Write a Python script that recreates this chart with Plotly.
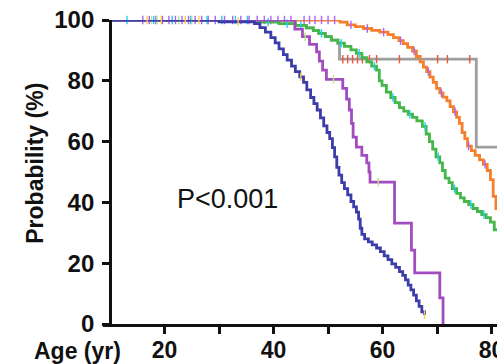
import numpy as np
import plotly.graph_objects as go

# Kaplan-Meier step points: age (yr) at which each drop occurs and survival (%) after it
orange_age = [10, 52.2, 53.5, 55.0, 56.5, 58.0, 59.5, 61.0, 62.0, 63.0, 63.8, 64.6, 65.5, 66.2,
              66.9, 67.5, 68.1, 68.7, 69.3, 69.9, 70.5, 71.1, 71.8, 72.4, 73.0, 73.6, 74.1,
              74.6, 75.1, 75.6, 76.3, 77.0, 77.8, 78.5, 79.2, 79.8, 80.3, 80.8, 81.4]
orange_surv = [100, 99.3, 98.4, 97.8, 97.2, 96.6, 96.0, 95.2, 94.2, 93.2, 92.2, 91.0, 89.8, 88.0,
               86.2, 84.5, 83.0, 81.2, 79.5, 77.5, 76.0, 74.6, 73.4, 71.5, 69.8, 68.0, 66.0,
               63.0, 61.0, 58.5, 57.0, 55.5, 54.0, 52.5, 50.5, 47.5, 42.0, 38.0, 35.0]

green_age = [10, 37, 41, 44, 46, 47.3, 48.3, 49.5, 50.6, 51.8, 53.0, 54.2, 55.2, 56.2, 57.1,
             58.0, 58.9, 59.4, 59.9, 60.7, 61.5, 62.3, 63.1, 63.9, 64.7, 65.5, 66.3, 67.3,
             68.0, 68.6, 69.2, 69.8, 70.5, 71.0, 71.5, 72.2, 72.8, 73.6, 74.3, 75.0, 75.8,
             76.6, 77.4, 78.2, 79.0, 79.8, 80.5, 81.5]
green_surv = [100, 99.3, 98.8, 98.2, 97.4, 96.5, 95.6, 94.5, 93.4, 92.4, 91.3, 90.2, 89.0, 87.6,
              86.2, 84.8, 83.5, 80.0, 78.5, 76.3, 74.5, 72.8, 71.2, 70.0, 69.0, 68.0, 66.8,
              65.0, 62.5, 60.0, 57.5, 55.0, 53.0, 50.5, 48.0, 46.5, 44.5, 43.0, 41.5, 40.3,
              39.3, 38.0, 37.0, 36.0, 35.0, 33.5, 31.0, 29.5]

gray_age = [10, 44, 46, 47.3, 48.3, 49.5, 50.6, 51.8, 52.1, 77.2, 81.5]
gray_surv = [100, 98.2, 97.4, 96.5, 95.6, 94.5, 93.4, 92.4, 87.1, 58.2, 58.2]

purple_age = [10, 43.9, 45.3, 46.6, 47.9, 48.4, 49.0, 49.7, 52.7, 53.4, 53.9, 54.3, 54.6, 55.2,
              56.2, 57.1, 57.5, 57.7, 62.2, 65.3, 65.9, 70.5, 71.1]
purple_surv = [100, 97.0, 94.5, 92.0, 89.5, 86.5, 83.5, 80.5, 77.5, 74.0, 70.4, 66.0, 61.5, 58.2,
               55.5, 53.0, 50.0, 46.7, 33.2, 24.3, 16.8, 8.6, 0]

blue_age = [10, 30, 36.5, 37.5, 38.5, 39.5, 40.3, 41.0, 41.8, 42.5, 43.3, 44.0, 44.8, 45.5,
            46.1, 46.8, 47.4, 48.0, 48.6, 49.2, 49.8, 50.3, 50.8, 51.2, 51.6, 52.0, 52.5,
            53.0, 53.6, 54.2, 54.7, 55.2, 55.6, 55.9, 56.2, 56.7, 57.4, 58.1, 58.9, 59.6,
            60.3, 61.0, 61.7, 62.4, 63.1, 63.7, 64.2, 64.7, 65.2, 65.7, 66.2, 66.7, 67.2, 67.7]
blue_surv = [100, 99.4, 98.8, 97.5, 96.0, 94.2, 92.5, 90.5, 88.6, 86.8, 84.8, 83.0, 81.3, 79.5,
             77.0, 74.5, 72.5, 70.4, 67.8, 65.2, 63.0, 61.0, 58.0, 55.0, 51.5, 49.0, 46.5,
             44.5, 42.5, 40.3, 38.5, 36.8, 34.5, 31.5, 29.5, 28.0, 27.0, 26.0, 25.0, 23.8,
             22.4, 21.2, 19.8, 18.6, 17.2, 16.0, 14.5, 12.8, 11.2, 9.5, 7.6, 5.8, 4.0, 3.0]

# Censored observations (age, yr)
orange_cens = [16, 17.2, 18.4, 19.6, 20.8, 22, 23.2, 24.4, 25.6, 26.8, 28, 29.3, 31, 32.5, 34,
               35.5, 37, 38.3, 39.5, 40.8, 42, 43.2, 45.6, 46.6, 47.6, 48.8, 50, 51.2, 54.2,
               57.2, 60.2, 63.3, 65.8, 68.4, 70.8, 73.3, 75.8, 78.8]
green_cens = [13.1, 18, 21.4, 24.8, 27.8, 30.5, 33, 35.2, 39, 42.5, 45, 48.8, 52.4, 55.7, 58.5,
              61.9, 65, 67.8, 70.2, 73.2, 76.2, 78.6]
gray_cens = [52.7, 53.6, 54.5, 55.4, 56.3, 57.6, 58.9, 63.1, 70.1, 71.9, 76.0]
purple_cens = [17.6, 18.6, 22.6, 25, 45.8, 51, 59.2]
blue_cens = [16.8, 19.4, 23.8, 26.3, 33.5, 45, 67.7]

x_ticks = [20, 30, 40, 50, 60, 70, 80]
x_tick_text = ["20", "", "40", "", "60", "", "80"]
y_ticks = [0, 20, 40, 60, 80, 100]

groups = [
    ("gray", gray_age, gray_surv, gray_cens, "#9E9E9E"),
    ("orange", orange_age, orange_surv, orange_cens, "#F47F2C"),
    ("green", green_age, green_surv, green_cens, "#45B649"),
    ("purple", purple_age, purple_surv, purple_cens, "#A24DBF"),
    ("blue", blue_age, blue_surv, blue_cens, "#3B3EAA"),
]

FONT = "Liberation Sans, Arial, sans-serif"

fig = go.Figure()
for name, ages, surv, cens, color in groups:
    fig.add_trace(go.Scatter(
        x=ages, y=surv, mode="lines", line=dict(color=color, width=2.8, shape="hv"),
        name=name, cliponaxis=False, showlegend=False, hoverinfo="skip"))
    a = np.asarray(ages)
    s = np.asarray(surv)
    idx = np.searchsorted(a, np.asarray(cens), side="right") - 1
    fig.add_trace(go.Scatter(
        x=cens, y=s[idx], mode="markers",
        marker=dict(symbol="line-ns-open", size=6, line=dict(color=color, width=1.4)),
        cliponaxis=False, showlegend=False, hoverinfo="skip"))

fig.add_annotation(x=0.317, y=0.41, xref="paper", yref="paper", text="P<0.001",
                   xanchor="center", yanchor="middle", showarrow=False,
                   font=dict(family=FONT, size=27, color="#111"))
fig.add_annotation(x=-0.173, y=0.53, xref="paper", yref="paper", text="Probability (%)",
                   xanchor="center", yanchor="middle", textangle=-90, showarrow=False,
                   font=dict(family=FONT, size=23, color="#111", weight="bold"))
fig.add_annotation(x=0.05, y=-0.088, xref="paper", yref="paper", text="Age (yr)",
                   xanchor="right", yanchor="middle", showarrow=False,
                   font=dict(family=FONT, size=23, color="#111", weight="bold"))

fig.update_layout(
    width=497, height=364,
    margin=dict(l=103, r=0, t=20, b=40, autoexpand=False),
    plot_bgcolor="white", paper_bgcolor="white",
    xaxis=dict(range=[8.7, 81], tickvals=x_ticks, ticktext=x_tick_text,
               ticklabeloverflow="allow", automargin=False, ticklabelstandoff=-4,
               showgrid=False, zeroline=False, showline=True, linecolor="#111", linewidth=3,
               ticks="outside", ticklen=7, tickwidth=2.5, tickcolor="#111",
               tickfont=dict(family=FONT, size=23, color="#111", weight="bold")),
    yaxis=dict(range=[0, 100], tickvals=y_ticks, anchor="free", position=1.3 / 72.3,
               ticklabelstandoff=3, automargin=False,
               showgrid=False, zeroline=False, showline=True, linecolor="#111", linewidth=3,
               ticks="outside", ticklen=7, tickwidth=2.5, tickcolor="#111",
               tickfont=dict(family=FONT, size=24, color="#111", weight="bold")),
)

fig.write_html("out.html")
